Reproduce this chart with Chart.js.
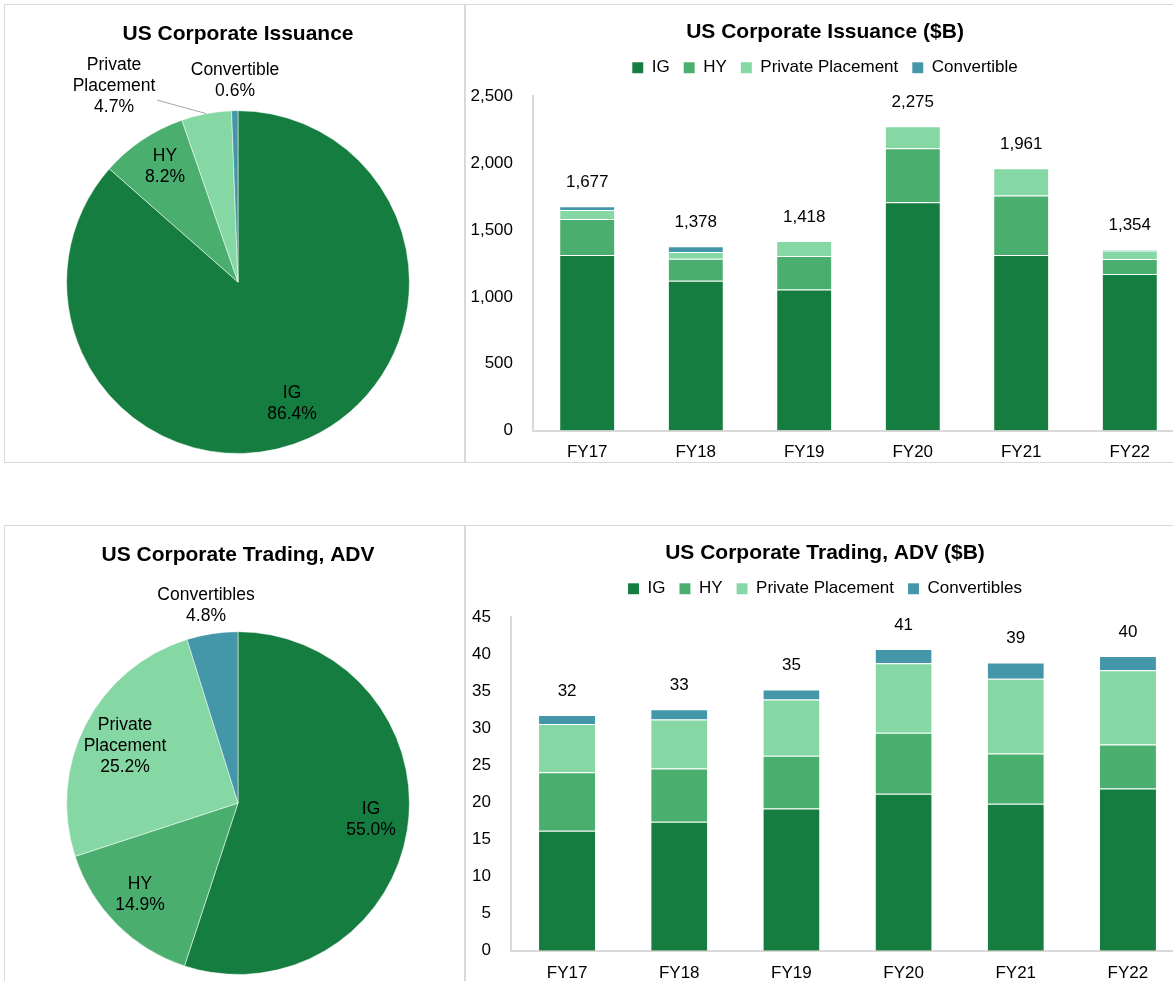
<!DOCTYPE html>
<html>
<head>
<meta charset="utf-8">
<script src="https://cdn.jsdelivr.net/npm/chart.js@4.4.1/dist/chart.umd.min.js"></script>
<style>
  html, body { margin: 0; padding: 0; background: #fff; width: 1173px; height: 981px; overflow: hidden; }
  .panel { position: absolute; border: 1px solid #d9d9d9; box-sizing: border-box; overflow: hidden; }
  canvas { position: absolute; left: 0; top: 0; }
</style>
</head>
<body>
<div class="panel" style="left:4px; top:4px; width:461px; height:459px;"><canvas id="issPie" width="459" height="457"></canvas></div>
<div class="panel" style="left:465px; top:4px; width:760px; height:459px;"><canvas id="issBar" width="730" height="457"></canvas></div>
<div class="panel" style="left:4px; top:525px; width:461px; height:500px;"><canvas id="advPie" width="459" height="455"></canvas></div>
<div class="panel" style="left:465px; top:525px; width:760px; height:500px;"><canvas id="advBar" width="730" height="455"></canvas></div>
<script>
const FONT = 'Arial, "Liberation Sans", sans-serif';

// --- DATA ---
const years = ['FY17', 'FY18', 'FY19', 'FY20', 'FY21', 'FY22'];

// US Corporate Issuance ($B)
const issIG = [1312, 1120, 1055, 1707, 1312, 1171];
const issHY = [270, 165, 250, 404, 445, 111];
const issPP = [67, 50, 113, 164, 204, 64];
const issConv = [28, 43, 0, 0, 0, 8];
const issSeriesNames = ['IG', 'HY', 'Private Placement', 'Convertible'];

// US Corporate Trading, ADV ($B)
const advIG = [16.2, 17.4, 19.2, 21.2, 19.85, 21.9];
const advHY = [7.9, 7.2, 7.1, 8.2, 6.75, 5.93];
const advPP = [6.5, 6.6, 7.6, 9.4, 10.1, 10.03];
const advConv = [1.2, 1.4, 1.35, 1.9, 2.2, 1.91];
const advSeriesNames = ['IG', 'HY', 'Private Placement', 'Convertibles'];

// pie shares (%)
const issShare = [86.4, 8.2, 4.7, 0.6];
const issShareText = [['IG'], ['HY'], ['Private', 'Placement'], ['Convertible']];
const advShare = [55.0, 14.9, 25.2, 4.8];
const advShareText = [['IG'], ['HY'], ['Private', 'Placement'], ['Convertibles']];

const COLORS = ['#147d3f', '#4aae6f', '#85d7a3', '#4397a8'];

// label placement (px from pie centre)
const issLabelOffsets = [[54, 122], [-73, -115], [-124, -196], [-3, -201]];
const advLabelOffsets = [[133, 17], [-98, 92], [-113, -57], [-32, -197]];

// --- PLUGINS ---
const pieLabels = {
    id: 'pieLabels',
    afterDatasetsDraw(chart, args, opts) {
        const ctx = chart.ctx;
        const arcs = chart.getDatasetMeta(0).data;
        const cx = arcs[0].x, cy = arcs[0].y;
        ctx.save();
        ctx.font = '17.5px ' + FONT;
        ctx.fillStyle = '#000';
        ctx.textAlign = 'center';
        ctx.textBaseline = 'middle';
        opts.text.forEach((lines, i) => {
            const all = lines.concat([opts.values[i].toFixed(1) + '%']);
            const [dx, dy] = opts.offsets[i];
            const top = cy + dy - (all.length - 1) * 21 / 2;
            all.forEach((t, k) => ctx.fillText(t, cx + dx, top + k * 21));
        });
        if (opts.leader) {
            const i = opts.leader.index;
            const arc = arcs[i];
            const mid = (arc.startAngle + arc.endAngle) / 2;
            const [dx, dy] = opts.offsets[i];
            ctx.strokeStyle = '#a6a6a6';
            ctx.lineWidth = 1;
            ctx.beginPath();
            ctx.moveTo(cx + dx + opts.leader.from[0], cy + dy + opts.leader.from[1]);
            ctx.lineTo(cx + Math.cos(mid) * arc.outerRadius, cy + Math.sin(mid) * arc.outerRadius);
            ctx.stroke();
        }
        ctx.restore();
    }
};

const totals = {
    id: 'totals',
    afterDatasetsDraw(chart, args, opts) {
        const ctx = chart.ctx;
        const xs = chart.scales.x, ys = chart.scales.y;
        ctx.save();
        ctx.font = '17px ' + FONT;
        ctx.fillStyle = '#000';
        ctx.textAlign = 'center';
        ctx.textBaseline = 'middle';
        chart.data.labels.forEach((lab, i) => {
            const total = chart.data.datasets.reduce((s, d) => s + d.data[i], 0);
            ctx.fillText(Math.round(total).toLocaleString('en-US'), xs.getPixelForValue(i), ys.getPixelForValue(total) - 24);
        });
        ctx.restore();
    }
};

// push the plot area down below the legend
const legendGap = {
    id: 'legendGap',
    beforeInit(chart) {
        const fit = chart.legend.fit;
        chart.legend.fit = function () {
            fit.call(this);
            this.height += 10;
        };
    }
};

function makePie(id, title, values, names, text, offsets, leader, padBottom) {
    return new Chart(document.getElementById(id), {
        type: 'pie',
        data: {
            labels: names,
            datasets: [{
                data: values,
                backgroundColor: COLORS,
                borderColor: 'rgba(255,255,255,0.5)',
                borderWidth: 1
            }]
        },
        options: {
            responsive: false,
            animation: false,
            layout: { padding: { left: 61, right: 54, top: 0, bottom: padBottom } },
            plugins: {
                legend: { display: false },
                tooltip: { enabled: false },
                title: {
                    display: true,
                    text: title,
                    color: '#000',
                    font: { family: FONT, size: 21, weight: 'bold' },
                    padding: { top: 17, bottom: 63 }
                },
                pieLabels: { values: values, text: text, offsets: offsets, leader: leader }
            }
        },
        plugins: [pieLabels]
    });
}

function makeBar(id, title, series, names, yMax, yStep, axisWidth, tickPad, padBottom) {
    return new Chart(document.getElementById(id), {
        type: 'bar',
        data: {
            labels: years,
            datasets: series.map((d, i) => ({
                label: names[i],
                data: d,
                backgroundColor: COLORS[i],
                borderColor: 'rgba(255,255,255,0.35)',
                borderWidth: { top: 1, right: 0, bottom: 0, left: 0 },
                barPercentage: 0.5,
                categoryPercentage: 1
            }))
        },
        options: {
            responsive: false,
            animation: false,
            layout: { padding: { left: 0, right: 12, top: 0, bottom: padBottom } },
            scales: {
                x: {
                    stacked: true,
                    grid: { display: false, drawTicks: false },
                    border: { color: '#d9d9d9', width: 2 },
                    ticks: { color: '#000', font: { family: FONT, size: 17 }, padding: tickPad }
                },
                y: {
                    stacked: true,
                    min: 0,
                    max: yMax,
                    grid: { display: false, drawTicks: false },
                    border: { color: '#d9d9d9', width: 2 },
                    ticks: {
                        stepSize: yStep,
                        color: '#000',
                        font: { family: FONT, size: 17 },
                        padding: 20,
                        callback: v => v.toLocaleString('en-US')
                    },
                    afterFit: s => { s.width = axisWidth; }
                }
            },
            plugins: {
                tooltip: { enabled: false },
                title: {
                    display: true,
                    text: title,
                    color: '#000',
                    font: { family: FONT, size: 21, weight: 'bold' },
                    padding: { top: 15, bottom: 0 }
                },
                legend: {
                    labels: {
                        color: '#000',
                        font: { family: FONT, size: 17 },
                        boxWidth: 11,
                        boxHeight: 11,
                        padding: 14
                    }
                }
            }
        },
        plugins: [totals, legendGap]
    });
}

makePie('issPie', 'US Corporate Issuance', issShare, issSeriesNames, issShareText, issLabelOffsets,
    { index: 2, from: [43, 14] }, 8);
makePie('advPie', 'US Corporate Trading, ADV', advShare, advSeriesNames, advShareText, advLabelOffsets, null, 6);

makeBar('issBar', 'US Corporate Issuance ($B)', [issIG, issHY, issPP, issConv], issSeriesNames, 2500, 500, 67, 12, -13);
makeBar('advBar', 'US Corporate Trading, ADV ($B)', [advIG, advHY, advPP, advConv], advSeriesNames, 45, 5, 45, 12, -16);
</script>
</body>
</html>
